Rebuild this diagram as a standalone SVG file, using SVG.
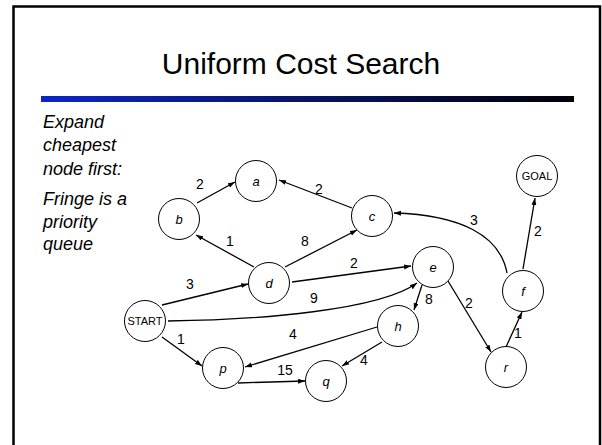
<svg xmlns="http://www.w3.org/2000/svg" width="602" height="445" viewBox="0 0 602 445">
<style>
.node circle{fill:#fff;stroke:#000;stroke-width:1}
.nl{font-family:"Liberation Sans",Arial,sans-serif;font-style:italic;font-size:13px;text-anchor:middle;dominant-baseline:central}
.nr{font-family:"Liberation Sans",Arial,sans-serif;font-size:11px;text-anchor:middle;dominant-baseline:central}
.edges path,.edges line{fill:none;stroke:#000;stroke-width:1.3;marker-end:url(#ah)}
.el{font-family:"Liberation Sans",Arial,sans-serif;font-size:14px;text-anchor:middle;dominant-baseline:central}
.side{font-family:"Liberation Sans",Arial,sans-serif;font-style:italic;font-size:18px}
</style>
<defs>
<marker id="ah" markerUnits="userSpaceOnUse" markerWidth="8" markerHeight="6" refX="7" refY="2.5" orient="auto">
<path d="M0,0 L7,2.5 L0,5 z" fill="#000"/>
</marker>
<linearGradient id="bar" x1="0" y1="0" x2="1" y2="0">
<stop offset="0" stop-color="#0d26c4"/>
<stop offset="1" stop-color="#000008"/>
</linearGradient>
</defs>
<rect width="602" height="445" fill="#fff"/>
<rect x="13.5" y="6.5" width="586.5" height="460" fill="none" stroke="#000" stroke-width="2.5"/>
<text x="301" y="74" font-family="Liberation Sans,Arial,sans-serif" font-size="30" text-anchor="middle">Uniform Cost Search</text>
<rect x="41" y="96" width="533" height="6" fill="url(#bar)"/>
<g id="sidetext" class="side">
<text x="43" y="128">Expand</text>
<text x="43" y="151">cheapest</text>
<text x="43" y="175">node first:</text>
<text x="43" y="205">Fringe is a</text>
<text x="43" y="228">priority</text>
<text x="43" y="250">queue</text>
</g>
<g id="connectors" class="edges">
<line x1="197" y1="203" x2="235" y2="182"/>
<line x1="352" y1="208" x2="279" y2="180"/>
<line x1="254" y1="267" x2="196" y2="235"/>
<line x1="285" y1="267" x2="357" y2="230"/>
<line x1="292" y1="282" x2="411" y2="266"/>
<line x1="162" y1="305" x2="248" y2="284"/>
<path d="M168,321 C260,320 380,310 417,283"/>
<path d="M507,273 C500,235 460,215 394,213"/>
<line x1="523" y1="269" x2="535" y2="198"/>
<line x1="422" y1="285" x2="414" y2="310"/>
<line x1="448" y1="281" x2="491" y2="352"/>
<line x1="506" y1="347" x2="522" y2="312"/>
<line x1="377" y1="327" x2="245" y2="367"/>
<line x1="382" y1="342" x2="342" y2="366"/>
<line x1="238" y1="383" x2="305" y2="381"/>
<line x1="162" y1="337" x2="202" y2="366"/>
</g>
<g id="edge-labels" class="el">
<text x="200" y="184">2</text>
<text x="319" y="189">2</text>
<text x="230" y="241">1</text>
<text x="305" y="241">8</text>
<text x="354" y="263">2</text>
<text x="190" y="284">3</text>
<text x="314" y="298">9</text>
<text x="474" y="220">3</text>
<text x="538" y="231">2</text>
<text x="429" y="299">8</text>
<text x="469" y="303">2</text>
<text x="518" y="333">1</text>
<text x="293" y="334">4</text>
<text x="364" y="360">4</text>
<text x="285" y="370">15</text>
<text x="181" y="339">1</text>
</g>
<g id="node-a" class="node"><circle cx="256" cy="181" r="20.5"/><text class="nl" x="256" y="181">a</text></g>
<g id="node-b" class="node"><circle cx="179" cy="219" r="20.5"/><text class="nl" x="179" y="219">b</text></g>
<g id="node-c" class="node"><circle cx="372" cy="216" r="20.5"/><text class="nl" x="372" y="216">c</text></g>
<g id="node-d" class="node"><circle cx="269" cy="283" r="20.5"/><text class="nl" x="269" y="283">d</text></g>
<g id="node-e" class="node"><circle cx="433" cy="267" r="20.5"/><text class="nl" x="433" y="267">e</text></g>
<g id="node-goal" class="node"><circle cx="537" cy="176" r="20.5"/><text class="nr" x="537" y="176" font-size="12.5">GOAL</text></g>
<g id="node-f" class="node"><circle cx="523" cy="291" r="20.5"/><text class="nl" x="523" y="291">f</text></g>
<g id="node-start" class="node"><circle cx="145" cy="321" r="20.5"/><text class="nr" x="145" y="321">START</text></g>
<g id="node-h" class="node"><circle cx="398" cy="326" r="20.5"/><text class="nl" x="398" y="326">h</text></g>
<g id="node-p" class="node"><circle cx="223" cy="368" r="20.5"/><text class="nl" x="223" y="368">p</text></g>
<g id="node-q" class="node"><circle cx="326" cy="381" r="20.5"/><text class="nl" x="326" y="381">q</text></g>
<g id="node-r" class="node"><circle cx="506" cy="367" r="20.5"/><text class="nl" x="506" y="367">r</text></g>
</svg>
